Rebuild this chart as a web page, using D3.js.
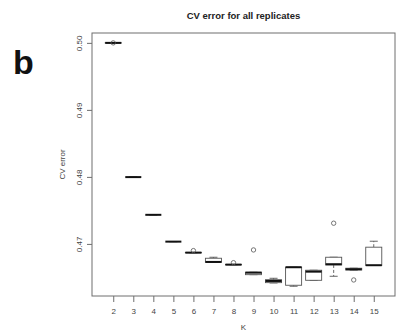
<!DOCTYPE html>
<html>
<head>
<meta charset="utf-8">
<script src="https://cdn.jsdelivr.net/npm/d3@7"></script>
<style>
  html, body { margin: 0; padding: 0; background: #fff; }
  svg { display: block; font-family: "Liberation Sans", Arial, sans-serif; }
</style>
</head>
<body>
<svg id="chart" width="405" height="334"></svg>
<script>
// Number of ancestral populations tested
const K = [2, 3, 4, 5, 6, 7, 8, 9, 10, 11, 12, 13, 14, 15];
// Box-plot summaries of cross-validation error across replicates
const whiskerLow  = [0.50000, 0.47997, 0.47434, 0.47034, 0.46868, 0.46723, 0.46689, 0.46541, 0.46417, 0.46368, 0.46457, 0.46517, 0.46609, 0.46679];
const quart1      = [0.49998, 0.47997, 0.47434, 0.47034, 0.46868, 0.46726, 0.46689, 0.46541, 0.46422, 0.46383, 0.46457, 0.46686, 0.46611, 0.46679];
const medians     = [0.50000, 0.47997, 0.47434, 0.47034, 0.46870, 0.46731, 0.46691, 0.46571, 0.46447, 0.46652, 0.46586, 0.46697, 0.46622, 0.46682];
const quart3      = [0.50002, 0.47997, 0.47434, 0.47034, 0.46872, 0.46786, 0.46693, 0.46577, 0.46466, 0.46652, 0.46607, 0.46801, 0.46637, 0.46951];
const whiskerHigh = [0.50002, 0.47997, 0.47434, 0.47034, 0.46872, 0.46801, 0.46693, 0.46577, 0.46487, 0.46652, 0.46607, 0.46801, 0.46637, 0.47040];
// Outlying replicates: [K, CV error]
const outliers = [[2, 0.50000], [6, 0.46900], [8, 0.46720], [9, 0.46910], [13, 0.47309], [14, 0.46462]];
const yTicks = [0.47, 0.48, 0.49, 0.50];

const svg = d3.select("#chart");
const plotL = 92, plotR = 395, plotT = 33, plotB = 296;

// R-style 4% padding around the data ranges
const dataMin = d3.min(whiskerLow.concat(outliers.map(d => d[1])));
const dataMax = d3.max(whiskerHigh.concat(outliers.map(d => d[1])));
const pad = (dataMax - dataMin) * 0.04;
const idx = d3.scaleLinear().domain([0.5 - 14 * 0.04, 14.5 + 14 * 0.04]).range([plotL, plotR]);
const x = k => idx(K.indexOf(k) + 1);
const y = d3.scaleLinear().domain([dataMin - pad, dataMax + pad]).range([plotB, plotT]);

const frame = "#6e6e6e";
const textCol = "#444";

// Title
svg.append("text").attr("x", (plotL + plotR) / 2).attr("y", 19)
  .attr("text-anchor", "middle").attr("font-size", 9.5).attr("font-weight", "bold")
  .attr("fill", "#222").text("CV error for all replicates");

// Panel letter
svg.append("text").attr("x", 13).attr("y", 74)
  .attr("font-size", 34).attr("font-weight", "bold").attr("fill", "#111").text("b");

// Plot frame
svg.append("rect").attr("x", plotL).attr("y", plotT)
  .attr("width", plotR - plotL).attr("height", plotB - plotT)
  .attr("fill", "none").attr("stroke", frame).attr("stroke-width", 1);

// Y axis
const yAxis = d3.axisLeft(y).tickValues(yTicks).tickFormat(d3.format(".2f")).tickSize(5).tickPadding(4);
const gy = svg.append("g").attr("transform", `translate(${plotL},0)`).call(yAxis);
gy.select(".domain").remove();
gy.selectAll(".tick line").attr("stroke", frame);
gy.selectAll(".tick text")
  .attr("fill", textCol).attr("font-size", 8).attr("font-family", "Liberation Sans, Arial, sans-serif")
  .attr("text-anchor", "middle").attr("x", 0).attr("dy", 0)
  .attr("transform", "translate(-10,0) rotate(-90)");

// X axis
const xScale = d3.scalePoint().domain(K).range([x(2), x(15)]);
const xAxis = d3.axisBottom(xScale).tickSize(6).tickPadding(6);
const gx = svg.append("g").attr("transform", `translate(0,${plotB})`).call(xAxis);
gx.select(".domain").remove();
gx.selectAll(".tick line").attr("stroke", frame);
gx.selectAll(".tick text").attr("fill", textCol).attr("font-size", 8)
  .attr("font-family", "Liberation Sans, Arial, sans-serif");

// Axis titles
svg.append("text").attr("x", (plotL + plotR) / 2).attr("y", 330)
  .attr("text-anchor", "middle").attr("font-size", 8).attr("fill", textCol).text("K");
svg.append("text").attr("transform", `translate(65,${(plotT + plotB) / 2}) rotate(-90)`)
  .attr("text-anchor", "middle").attr("font-size", 8).attr("fill", textCol).text("CV error");

// Boxes
const half = idx(1.4) - idx(1);
const cap = half / 2;
const g = svg.append("g");
K.forEach((k, i) => {
  const cx = x(k);
  const b = g.append("g");
  // whiskers
  b.append("line").attr("x1", cx).attr("x2", cx).attr("y1", y(quart3[i])).attr("y2", y(whiskerHigh[i]))
    .attr("stroke", "#444").attr("stroke-dasharray", "3,2").attr("stroke-width", 0.8);
  b.append("line").attr("x1", cx).attr("x2", cx).attr("y1", y(quart1[i])).attr("y2", y(whiskerLow[i]))
    .attr("stroke", "#444").attr("stroke-dasharray", "3,2").attr("stroke-width", 0.8);
  // staples
  [whiskerHigh[i], whiskerLow[i]].forEach(v => {
    b.append("line").attr("x1", cx - cap).attr("x2", cx + cap).attr("y1", y(v)).attr("y2", y(v))
      .attr("stroke", "#555").attr("stroke-width", 0.9);
  });
  // box
  b.append("rect").attr("x", cx - half).attr("width", 2 * half)
    .attr("y", y(quart3[i])).attr("height", Math.max(0, y(quart1[i]) - y(quart3[i])))
    .attr("fill", "#fff").attr("stroke", "#555").attr("stroke-width", 0.9);
  // median
  b.append("line").attr("x1", cx - half).attr("x2", cx + half).attr("y1", y(medians[i])).attr("y2", y(medians[i]))
    .attr("stroke", "#111").attr("stroke-width", 2);
});

// Outlying points
g.selectAll("circle.out").data(outliers).join("circle")
  .attr("class", "out")
  .attr("cx", d => x(d[0])).attr("cy", d => y(d[1])).attr("r", 2.2)
  .attr("fill", "none").attr("stroke", "#555").attr("stroke-width", 0.8);
</script>
</body>
</html>
